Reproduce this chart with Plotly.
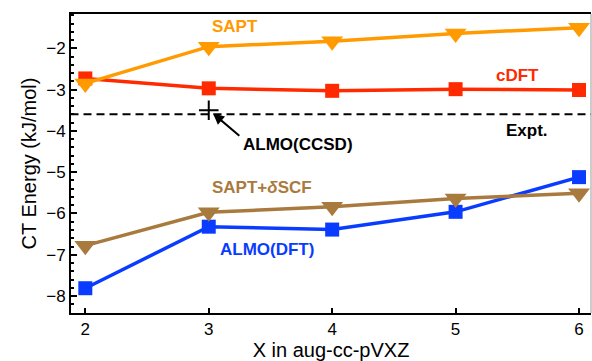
import plotly.graph_objects as go

x_basis = [2, 3, 4, 5, 6]
sapt = [-2.85, -1.96, -1.83, -1.64, -1.50]
cdft = [-2.73, -2.97, -3.03, -2.99, -3.01]
sapt_dscf = [-6.78, -5.97, -5.84, -5.64, -5.51]
almo_dft = [-7.81, -6.32, -6.39, -5.96, -5.12]
expt = -3.60
almo_ccsd_x = [3]
almo_ccsd_y = [-3.50]

C_ORANGE = "#FF9A00"
C_RED = "#FF2A00"
C_BROWN = "#A97A3E"
C_BLUE = "#0A3CFF"

FONT = "Liberation Sans, Arial, sans-serif"

fig = go.Figure()

fig.add_trace(go.Scatter(x=[1.88, 6.1], y=[expt, expt], mode="lines",
                         line=dict(color="black", width=2, dash="8px,5px"),
                         showlegend=False, hoverinfo="skip"))

def series(y, color, symbol, size):
    fig.add_trace(go.Scatter(x=x_basis, y=y, mode="lines+markers",
                             line=dict(color=color, width=3.5),
                             marker=dict(color=color, symbol=symbol, size=size,
                                         line=dict(width=0)),
                             showlegend=False))

series(cdft, C_RED, "square", 14)
series(sapt, C_ORANGE, "triangle-down", 19)
series(almo_dft, C_BLUE, "square", 14)
series(sapt_dscf, C_BROWN, "triangle-down", 19)

fig.add_trace(go.Scatter(x=almo_ccsd_x, y=almo_ccsd_y, mode="markers",
                         marker=dict(symbol="cross-thin", size=14,
                                     line=dict(color="black", width=2)),
                         showlegend=False))

fig.add_annotation(x=3.035, y=-3.58, ax=3.26, ay=-4.15, axref="x", ayref="y",
                   xref="x", yref="y", text="", showarrow=True,
                   arrowhead=2, arrowsize=1.1, arrowwidth=2, arrowcolor="black")

def label(text, x, y, color):
    fig.add_annotation(x=x, y=y, xref="x", yref="y", text=text, showarrow=False,
                       font=dict(family=FONT, size=17, color=color))

label("<b>SAPT</b>", 3.21, -1.48, C_ORANGE)
label("<b>cDFT</b>", 5.50, -2.67, C_RED)
label("<b>Expt.</b>", 5.58, -3.98, "black")
label("<b>ALMO(CCSD)</b>", 3.72, -4.34, "black")
label("<b>SAPT+<i>δ</i>SCF</b>", 3.43, -5.38, C_BROWN)
label("<b>ALMO(DFT)</b>", 3.47, -6.88, C_BLUE)

fig.add_shape(type="line", xref="paper", yref="paper", x0=1, x1=1, y0=0, y1=1,
              line=dict(color="#999999", width=1))

fig.update_layout(
    width=592, height=361,
    margin=dict(l=71, r=1, t=14, b=48),
    plot_bgcolor="white", paper_bgcolor="white",
    font=dict(family=FONT, size=17, color="black"),
    xaxis=dict(range=[1.884, 6.097], tickvals=x_basis, ticktext=[str(v) for v in x_basis],
               ticks="inside", ticklen=5, tickwidth=2, tickcolor="black",
               showline=True, linecolor="black", linewidth=2, mirror=True,
               showgrid=False, zeroline=False,
               title=dict(text="X in aug-cc-pVXZ", font=dict(size=20), standoff=2),
               tickfont=dict(size=17)),
    yaxis=dict(range=[-8.41, -1.17], tickvals=[-8, -7, -6, -5, -4, -3, -2],
               ticktext=["\u22128", "\u22127", "\u22126", "\u22125", "\u22124", "\u22123", "\u22122"],
               ticks="inside", ticklen=6, tickwidth=2, tickcolor="black",
               minor=dict(dtick=0.2, ticks="inside", ticklen=3, tickwidth=1.5, tickcolor="black", showgrid=False),
               showline=True, linecolor="black", linewidth=2,
               showgrid=False, zeroline=False,
               title=dict(text="CT Energy (kJ/mol)", font=dict(size=20), standoff=4),
               tickfont=dict(size=17)),
)

fig.write_html("out.html")
